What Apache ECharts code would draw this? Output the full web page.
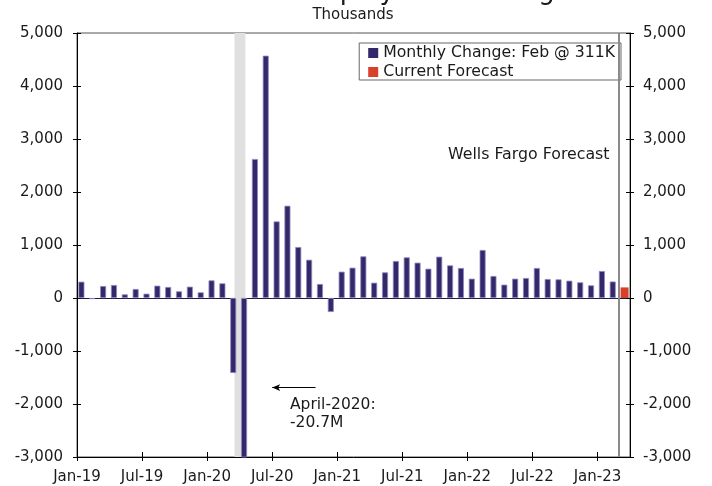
<!DOCTYPE html>
<html><head><meta charset="utf-8">
<script src="https://cdn.jsdelivr.net/npm/echarts@6/dist/echarts.min.js"></script>
<style>html,body{margin:0;padding:0;background:#fff}#c{width:712px;height:486px}</style>
</head><body><div id="c"></div>
<script>
const months = ['Jan-19','Feb-19','Mar-19','Apr-19','May-19','Jun-19','Jul-19','Aug-19','Sep-19','Oct-19','Nov-19','Dec-19',
 'Jan-20','Feb-20','Mar-20','Apr-20','May-20','Jun-20','Jul-20','Aug-20','Sep-20','Oct-20','Nov-20','Dec-20',
 'Jan-21','Feb-21','Mar-21','Apr-21','May-21','Jun-21','Jul-21','Aug-21','Sep-21','Oct-21','Nov-21','Dec-21',
 'Jan-22','Feb-22','Mar-22','Apr-22','May-22','Jun-22','Jul-22','Aug-22','Sep-22','Oct-22','Nov-22','Dec-22',
 'Jan-23','Feb-23','Mar-23'];
const monthlyChange = [308,-20,226,245,69,170,82,233,208,126,214,107,
 333,277,-1415,-20700,2623,4572,1445,1741,962,722,264,-264,
 497,572,786,289,484,698,767,667,553,780,616,566,
 365,906,415,252,365,377,566,358,352,327,296,239,
 509,311,null];
const currentForecast = [null,null,null,null,null,null,null,null,null,null,null,null,
 null,null,null,null,null,null,null,null,null,null,null,null,
 null,null,null,null,null,null,null,null,null,null,null,null,
 null,null,null,null,null,null,null,null,null,null,null,null,
 null,null,200];
const yMin = -3000, yMax = 5000, yStep = 1000;
const xTickStep = 6;
const seriesNames = ['Monthly Change: Feb @ 311K', 'Current Forecast'];
const recession = [14.52, 15.53];   // month-index span of shading
const forecastStart = 50;           // boundary before forecast month
const arrowFrom = [22.0, -1690], arrowTo = [18.0, -1690];

const FONT = 'DejaVu Sans';
const txt = {fontFamily: FONT, fontSize: 15, color: '#1a1a1a'};
const fmt = v => v.toLocaleString('en-US');

const chart = echarts.init(document.getElementById('c'), null, {renderer: 'canvas'});
const grid = {left: 77, right: 82, top: 33, bottom: 29, show: true, borderColor: '#555', borderWidth: 1, backgroundColor: 'transparent'};
const yBase = {type: 'value', min: yMin, max: yMax, interval: yStep, splitLine: {show: false}};
chart.setOption({
  animation: false,
  textStyle: {fontFamily: FONT},
  grid: grid,
  legend: {
    data: seriesNames, orient: 'vertical', right: 91, top: 43,
    padding: [2, 6, 0, 9], itemGap: 3, itemWidth: 10, itemHeight: 10,
    borderColor: '#666', borderWidth: 1, backgroundColor: '#fff',
    itemStyle: {borderWidth: 0},
    textStyle: {fontFamily: FONT, fontSize: 15.7, color: '#1a1a1a'}, icon: 'rect'
  },
  xAxis: [
    {type: 'category', data: months, position: 'bottom',
     axisLine: {onZero: true, lineStyle: {color: '#1f1a45', width: 1}},
     axisTick: {show: false}, axisLabel: {show: false}, splitLine: {show: false}},
    {type: 'value', min: 0, max: months.length, interval: xTickStep, position: 'bottom',
     axisLine: {onZero: false, lineStyle: {color: '#000'}},
     axisTick: {inside: false, length: 4, lineStyle: {color: '#000'}},
     axisLabel: Object.assign({margin: 13, showMaxLabel: false, formatter: v => months[v] || ''}, txt),
     splitLine: {show: false}},
    {type: 'value', min: 0, max: months.length, interval: xTickStep, position: 'bottom',
     axisLine: {show: false, onZero: false},
     axisTick: {inside: true, length: 5, lineStyle: {color: '#000'}},
     axisLabel: {show: false}, splitLine: {show: false}}
  ],
  yAxis: [
    Object.assign({}, yBase, {position: 'left',
     axisLine: {show: true, onZero: false, lineStyle: {color: '#000'}},
     axisTick: {show: true, inside: false, length: 4, lineStyle: {color: '#000'}},
     axisLabel: Object.assign({margin: 14, formatter: fmt}, txt)}),
    Object.assign({}, yBase, {position: 'right',
     axisLine: {show: true, onZero: false, lineStyle: {color: '#000'}},
     axisTick: {show: true, inside: false, length: 4, lineStyle: {color: '#000'}},
     axisLabel: Object.assign({margin: 13, formatter: fmt}, txt)}),
    Object.assign({}, yBase, {position: 'left', axisLine: {show: false, onZero: false},
     axisTick: {show: true, inside: true, length: 4, lineStyle: {color: '#000'}}, axisLabel: {show: false}}),
    Object.assign({}, yBase, {position: 'right', axisLine: {show: false, onZero: false},
     axisTick: {show: true, inside: true, length: 4, lineStyle: {color: '#000'}}, axisLabel: {show: false}})
  ],
  series: [
    {type: 'line', xAxisIndex: 1, yAxisIndex: 0, data: [], z: 1, silent: true,
     markArea: {silent: true, itemStyle: {color: '#e0e0e0'},
       data: [[{xAxis: recession[0]}, {xAxis: recession[1]}]]},
     markLine: {silent: true, symbol: 'none', label: {show: false},
       data: [
         [{xAxis: forecastStart, yAxis: yMin, lineStyle: {color: '#8a8a8a', width: 2, type: 'solid'}},
          {xAxis: forecastStart, yAxis: yMax}],
         [{coord: arrowFrom, symbol: 'none', lineStyle: {color: '#000', width: 1, type: 'solid'}},
          {coord: arrowTo, symbol: 'arrow', symbolSize: [5, 8]}]
       ]}},
    {name: seriesNames[0], type: 'bar', xAxisIndex: 0, yAxisIndex: 0, data: monthlyChange, z: 3,
     barWidth: 6, barGap: '-100%', clip: true,
     itemStyle: {color: '#33296a', borderColor: '#9189c0', borderWidth: 0.8}},
    {name: seriesNames[1], type: 'bar', xAxisIndex: 0, yAxisIndex: 0, data: currentForecast, z: 3,
     barWidth: 8, barGap: '-100%', clip: true,
     itemStyle: {color: '#d9402a'}}
  ],
  graphic: [
    {type: 'text', z: 10, x: 374, y: -21, style: {text: 'Nonfarm Employment Change', font: '26px "DejaVu Sans"', fill: '#1a1a1a', align: 'center', verticalAlign: 'top'}},
    {type: 'text', z: 10, x: 353, y: 8, style: {text: 'Thousands', font: '15px "DejaVu Sans"', fill: '#1a1a1a', align: 'center'}},
    {type: 'text', z: 10, x: 448, y: 147, style: {text: 'Wells Fargo Forecast', font: '15.8px "DejaVu Sans"', fill: '#1a1a1a'}},
    {type: 'text', z: 10, x: 290, y: 396, style: {text: 'April-2020:\n-20.7M', font: '15.5px "DejaVu Sans"', fill: '#1a1a1a', lineHeight: 18}}
  ]
});
</script></body></html>
